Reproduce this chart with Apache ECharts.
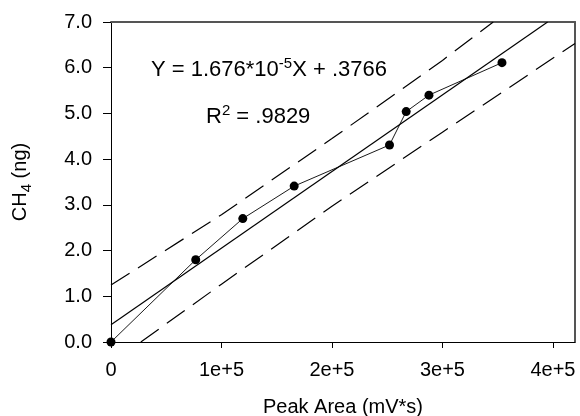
<!DOCTYPE html>
<html><head><meta charset="utf-8">
<script src="https://cdn.jsdelivr.net/npm/echarts@6/dist/echarts.min.js"></script>
<style>html,body{margin:0;padding:0;background:#fff}#c{width:580px;height:416px}</style>
</head><body><div id="c"></div>
<script>
// Data
const peakArea = [0, 76700, 119300, 165800, 252100, 267200, 287800, 353900];
const ch4 = [0.00, 1.80, 2.70, 3.41, 4.31, 5.04, 5.40, 6.11];
const regX = [0, 395200];
const regY = [0.3766, 7.0];
const upperX = [0, 100000, 200000, 300000, 346000];
const upperY = [1.245, 2.785, 4.45, 6.16, 7.0];
const lowerX = [27000, 100000, 200000, 300000, 420000];
const lowerY = [0, 1.265, 2.97, 4.59, 6.53];
const xTicks = [0, 100000, 200000, 300000, 400000];
const xTickLabels = ['0', '1e+5', '2e+5', '3e+5', '4e+5'];
const yTicks = [0, 1, 2, 3, 4, 5, 6, 7];
const yTickLabels = ['0.0', '1.0', '2.0', '3.0', '4.0', '5.0', '6.0', '7.0'];

const pairs = (xs, ys) => xs.map((x, i) => [x, ys[i]]);
const FONT = 'Liberation Sans, Arial, sans-serif';
const chart = echarts.init(document.getElementById('c'), null, {renderer: 'canvas'});
const dash = [22, 10];
chart.setOption({
  animation: false,
  backgroundColor: '#fff',
  grid: {left: 111, right: 5, top: 22, bottom: 74, containLabel: false, outerBoundsMode: 'none'},
  xAxis: [{
    type: 'value', min: 0, max: 420000, position: 'bottom',
    axisLine: {show: true, onZero: false, lineStyle: {color: '#000', width: 1}},
    axisTick: {show: true, inside: false, length: 6, lineStyle: {color: '#000'}, customValues: xTicks},
    axisLabel: {customValues: xTicks, margin: 18, color: '#000', fontSize: 20, fontFamily: FONT,
      formatter: v => { const i = xTicks.indexOf(v); return i >= 0 ? xTickLabels[i] : ''; }},
    splitLine: {show: false},
    name: 'Peak Area (mV*s)', nameLocation: 'middle', nameGap: 55,
    nameTextStyle: {color: '#000', fontSize: 20, fontFamily: FONT}
  }, {
    type: 'value', min: 0, max: 420000, position: 'top',
    axisLine: {show: true, onZero: false, lineStyle: {color: '#555', width: 2}},
    axisTick: {show: false}, axisLabel: {show: false}, splitLine: {show: false}
  }],
  yAxis: [{
    type: 'value', min: 0, max: 7, interval: 1, position: 'left',
    axisLine: {show: true, onZero: false, lineStyle: {color: '#000', width: 1}},
    axisTick: {show: true, inside: false, length: 8, lineStyle: {color: '#000'}, customValues: yTicks},
    axisLabel: {customValues: yTicks, margin: 19, color: '#000', fontSize: 20, fontFamily: FONT,
      formatter: v => { const i = yTicks.indexOf(v); return i >= 0 ? yTickLabels[i] : ''; }},
    splitLine: {show: false},
    name: '{a|CH}{s|4}{a| (ng)}', nameLocation: 'middle', nameGap: 77, nameRotate: 90,
    nameTextStyle: {color: '#000', fontFamily: FONT, rich: {
      a: {fontSize: 20, lineHeight: 27, fontFamily: FONT, color: '#000'},
      s: {fontSize: 15, lineHeight: 13, verticalAlign: 'bottom', fontFamily: FONT, color: '#000'}
    }}
  }, {
    type: 'value', min: 0, max: 7, interval: 1, position: 'right',
    axisLine: {show: true, onZero: false, lineStyle: {color: '#555', width: 2}},
    axisTick: {show: false}, axisLabel: {show: false}, splitLine: {show: false}
  }],
  series: [{
    type: 'line', data: pairs(upperX, upperY), symbol: 'none', clip: true, z: 2,
    lineStyle: {color: '#000', width: 1.2, type: dash}
  }, {
    type: 'line', data: pairs(lowerX, lowerY), symbol: 'none', clip: true, z: 2,
    lineStyle: {color: '#000', width: 1.2, type: dash}
  }, {
    type: 'line', data: pairs(regX, regY), symbol: 'none', clip: true, z: 3,
    lineStyle: {color: '#000', width: 1.2}
  }, {
    type: 'line', data: pairs(peakArea, ch4), symbol: 'circle', symbolSize: 9, clip: false, z: 4,
    lineStyle: {color: '#000', width: 0.9}, itemStyle: {color: '#000'}
  }],
  graphic: [{
    type: 'text', left: 151, top: 56, z: 10,
    style: {text: '{a|Y = 1.676*10}{u|-5}{a|X + .3766}', fill: '#000', rich: {
      a: {fontSize: 22, lineHeight: 28, fontFamily: FONT, fill: '#000'},
      u: {fontSize: 15, lineHeight: 14, verticalAlign: 'top', fontFamily: FONT, fill: '#000'}
    }}
  }, {
    type: 'text', left: 206, top: 103, z: 10,
    style: {text: '{a|R}{u|2}{a| = .9829}', fill: '#000', rich: {
      a: {fontSize: 22, lineHeight: 28, fontFamily: FONT, fill: '#000'},
      u: {fontSize: 15, lineHeight: 14, verticalAlign: 'top', fontFamily: FONT, fill: '#000'}
    }}
  }]
});
</script></body></html>
